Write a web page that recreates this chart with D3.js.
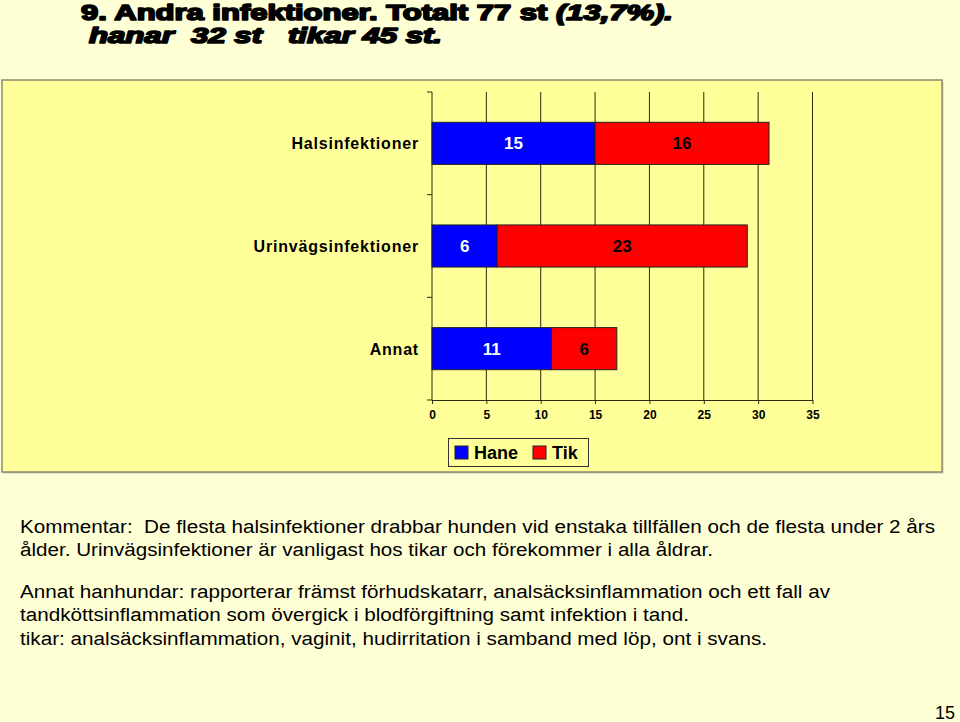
<!DOCTYPE html>
<html><head><meta charset="utf-8">
<script src="https://cdn.jsdelivr.net/npm/d3@7"></script>
<style>
html,body{margin:0;padding:0;background:#FFFFD6;}
svg{display:block;}
text{white-space:pre;}
</style></head>
<body>
<script>
const categories = ["Halsinfektioner", "Urinvägsinfektioner", "Annat"];
const seriesNames = ["Hane", "Tik"];
const hane = [15, 6, 11];
const tik = [16, 23, 6];
const xTicks = [0, 5, 10, 15, 20, 25, 30, 35];
const titleLines = ["9. Andra infektioner. Totalt 77 st ", "(13,7%).", "hanar  32 st   tikar 45 st."];
const commentLines = [
  "Kommentar:  De flesta halsinfektioner drabbar hunden vid enstaka tillfällen och de flesta under 2 års",
  "ålder. Urinvägsinfektioner är vanligast hos tikar och förekommer i alla åldrar.",
  "Annat hanhundar: rapporterar främst förhudskatarr, analsäcksinflammation och ett fall av",
  "tandköttsinflammation som övergick i blodförgiftning samt infektion i tand.",
  "tikar: analsäcksinflammation, vaginit, hudirritation i samband med löp, ont i svans."
];
const pageNumber = "15";

const W = 960, H = 722;
const svg = d3.select("body").append("svg").attr("width", W).attr("height", H);
svg.append("rect").attr("width", W).attr("height", H).attr("fill", "#FFFFD6");

// Title
const tfont = "'Liberation Sans', Arial, sans-serif";
const t1 = svg.append("text").attr("x", 81).attr("y", 20)
  .attr("font-family", tfont).attr("font-weight", "bold").attr("font-size", 22)
  .attr("stroke", "#000").attr("stroke-width", 1.7).attr("stroke-linejoin", "round").attr("fill", "#000");
t1.append("tspan").text(titleLines[0]);
t1.append("tspan").attr("font-style", "italic").text(titleLines[1]);
t1.attr("textLength", 592).attr("lengthAdjust", "spacingAndGlyphs");
svg.append("text").attr("x", 89).attr("y", 43)
  .attr("font-family", tfont).attr("font-weight", "bold").attr("font-style", "italic").attr("font-size", 22)
  .attr("stroke", "#000").attr("stroke-width", 1.7).attr("stroke-linejoin", "round").attr("fill", "#000")
  .attr("textLength", 353).attr("lengthAdjust", "spacingAndGlyphs")
  .text(titleLines[2]);

// Chart area
svg.append("rect").attr("x", 3.5).attr("y", 81.5).attr("width", 940).attr("height", 392)
  .attr("fill", "#999").attr("opacity", 0.5);
svg.append("rect").attr("x", 2).attr("y", 80).attr("width", 940).attr("height", 392)
  .attr("fill", "#FFFF99").attr("stroke", "#8a8a70").attr("stroke-width", 1.5);

const x = d3.scaleLinear().domain([0, 35]).range([432, 812.5]);
const y = d3.scaleBand().domain(categories).range([92, 400]).paddingInner(0.59).paddingOuter(0.295);

const lineColor = "#2b2b10";
// gridlines
svg.append("g").selectAll("line").data(xTicks.slice(1)).join("line")
  .attr("x1", d => x(d)).attr("x2", d => x(d)).attr("y1", 92).attr("y2", 400)
  .attr("stroke", lineColor).attr("stroke-width", 1);

// x axis
const xa = svg.append("g").attr("transform", "translate(0,400)")
  .call(d3.axisBottom(x).tickValues(xTicks).tickSize(4).tickSizeOuter(0).tickPadding(6));
xa.select(".domain").attr("stroke", lineColor);
xa.selectAll(".tick line").attr("stroke", lineColor);
xa.selectAll("text").attr("font-family", tfont).attr("font-weight", "bold").attr("font-size", 12).attr("fill", "#000");

// y axis
const yBounds = [92, 92 + 308 / 3, 92 + 2 * 308 / 3, 400];
svg.append("line").attr("x1", 432).attr("x2", 432).attr("y1", 92).attr("y2", 400).attr("stroke", lineColor);
svg.append("g").selectAll("line").data(yBounds).join("line")
  .attr("x1", 427).attr("x2", 432).attr("y1", d => d).attr("y2", d => d).attr("stroke", lineColor);
svg.append("g").selectAll("text").data(categories).join("text")
  .attr("x", 419).attr("y", d => y(d) + y.bandwidth() / 2 + 6)
  .attr("text-anchor", "end").attr("font-family", tfont).attr("font-weight", "bold")
  .attr("font-size", 16).attr("letter-spacing", 0.8).attr("fill", "#000").text(d => d);

// bars
const stackData = categories.map((c, i) => ({cat: c, Hane: hane[i], Tik: tik[i]}));
const stack = d3.stack().keys(seriesNames)(stackData);
const colors = {Hane: "#0000FF", Tik: "#FF0000"};
const labelColors = {Hane: "#FFFFFF", Tik: "#000000"};
stack.forEach(s => {
  const g = svg.append("g");
  g.selectAll("rect").data(s).join("rect")
    .attr("x", d => x(d[0])).attr("width", d => x(d[1]) - x(d[0]))
    .attr("y", d => y(d.data.cat)).attr("height", y.bandwidth())
    .attr("fill", colors[s.key]).attr("stroke", "#222").attr("stroke-width", 1);
  g.selectAll("text").data(s).join("text")
    .attr("x", d => (x(d[0]) + x(d[1])) / 2).attr("y", d => y(d.data.cat) + y.bandwidth() / 2 + 6)
    .attr("text-anchor", "middle").attr("font-family", tfont).attr("font-weight", "bold")
    .attr("font-size", 17).attr("fill", labelColors[s.key]).text(d => d.data[s.key]);
});

// legend
const lg = svg.append("g");
lg.append("rect").attr("x", 448.5).attr("y", 438.5).attr("width", 140).attr("height", 28)
  .attr("fill", "#FFFF99").attr("stroke", "#333").attr("stroke-width", 1);
const legendPos = [{x: 455, tx: 474}, {x: 533, tx: 552}];
seriesNames.forEach((n, i) => {
  lg.append("rect").attr("x", legendPos[i].x).attr("y", 446).attr("width", 13).attr("height", 13)
    .attr("fill", colors[n]).attr("stroke", "#222").attr("stroke-width", 1);
  lg.append("text").attr("x", legendPos[i].tx).attr("y", 459).attr("font-family", tfont)
    .attr("font-weight", "bold").attr("font-size", 18).attr("fill", "#000").text(n);
});

// comments
const cWidths = [915, 693, 810, 669, 747];
const cYs = [533, 556, 598, 621, 645];
svg.append("g").selectAll("text").data(commentLines).join("text")
  .attr("x", 20).attr("y", (d, i) => cYs[i])
  .attr("font-family", tfont).attr("font-size", 18).attr("fill", "#000")
  .attr("textLength", (d, i) => cWidths[i]).attr("lengthAdjust", "spacingAndGlyphs")
  .text(d => d);

svg.append("text").attr("x", 955).attr("y", 719).attr("text-anchor", "end")
  .attr("font-family", tfont).attr("font-size", 18).attr("fill", "#000").text(pageNumber);
</script>
</body></html>
